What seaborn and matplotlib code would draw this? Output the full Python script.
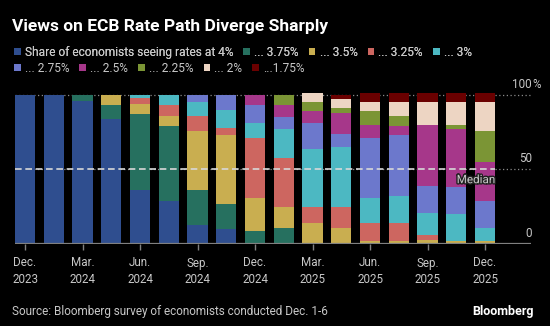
import matplotlib
matplotlib.use("Agg")
import matplotlib.pyplot as plt
import matplotlib.patheffects as pe
from matplotlib.patches import Patch
from matplotlib.transforms import blended_transform_factory
import numpy as np
import pandas as pd
import seaborn as sns

# ECB policy meetings covered by the survey
meetings = ["Dec 2023", "Jan 2024", "Mar 2024", "Apr 2024", "Jun 2024", "Jul 2024",
            "Sep 2024", "Oct 2024", "Dec 2024", "Jan 2025", "Mar 2025", "Apr 2025",
            "Jun 2025", "Jul 2025", "Sep 2025", "Oct 2025", "Dec 2025"]

rate_labels = ["Share of economists seeing rates at 4%", "... 3.75%", "... 3.5%",
               "... 3.25%", "... 3%", "... 2.75%", "... 2.5%", "... 2.25%",
               "... 2%", "...1.75%"]

# Share of economists (%) expecting each deposit rate after each meeting
share_4_00 = [100, 100, 96, 84, 36, 29, 13, 10, 0, 0, 0, 0, 0, 0, 0, 0, 0]
share_3_75 = [0, 0, 4, 9, 51, 50, 23, 17, 9, 11, 0, 0, 0, 0, 0, 0, 0]
share_3_50 = [0, 0, 0, 7, 7, 7, 40, 46, 22, 14, 14, 11, 2, 2, 3, 2, 2]
share_3_25 = [0, 0, 0, 0, 4, 7, 10, 5, 40, 33, 11, 14, 12, 12, 3, 0, 0]
share_3_00 = [0, 0, 0, 0, 2, 7, 9, 12, 10, 19, 39, 40, 17, 18, 15, 18, 9]
share_2_75 = [0, 0, 0, 0, 0, 0, 5, 10, 12, 8, 17, 9, 40, 41, 18, 18, 18]
share_2_50 = [0, 0, 0, 0, 0, 0, 0, 0, 7, 8, 8, 14, 9, 6, 41, 39, 26]
share_2_25 = [0, 0, 0, 0, 0, 0, 0, 0, 0, 7, 6, 3, 9, 7, 0, 3, 21]
share_2_00 = [0, 0, 0, 0, 0, 0, 0, 0, 0, 0, 6, 6, 6, 9, 15, 15, 19]
share_1_75 = [0, 0, 0, 0, 0, 0, 0, 0, 0, 0, 0, 3, 6, 6, 6, 6, 6]

tick_positions = [0, 2, 4, 6, 8, 10, 12, 14, 16]
tick_labels = ["Dec.\n2023", "Mar.\n2024", "Jun.\n2024", "Sep.\n2024", "Dec.\n2024",
               "Mar.\n2025", "Jun.\n2025", "Sep.\n2025", "Dec.\n2025"]

median_level = 50

colors = ["#2F4E8F", "#26705F", "#C9AE50", "#CD6660", "#4CB8C2",
          "#6C78CC", "#A6378A", "#7B9535", "#EDD5C3", "#6A0000"]

series = [share_4_00, share_3_75, share_3_50, share_3_25, share_3_00,
          share_2_75, share_2_50, share_2_25, share_2_00, share_1_75]

# cumulative totals, bottom (4%) to top (1.75%)
df = pd.DataFrame({"meeting": meetings})
cum = np.zeros(len(meetings))
for i, s in enumerate(series):
    cum = cum + np.array(s)
    df[f"cum{i}"] = cum

sns.set_theme(style="dark")
plt.rcParams["font.family"] = ["Roboto", "DejaVu Sans"]

BG = "#000000"
TXT = "#c8c8c8"
fig = plt.figure(figsize=(5.5, 3.26), dpi=100, facecolor=BG)
ax = fig.add_axes([15 / 550, 82 / 326, 516 / 550, 155 / 326])
ax.set_facecolor(BG)

# stack by layering cumulative bars, tallest first
for i in range(len(series) - 1, -1, -1):
    sns.barplot(data=df, x="meeting", y=f"cum{i}", order=meetings, color=colors[i],
                saturation=1, width=0.7, errorbar=None, linewidth=0, ax=ax, zorder=2)

ax.set_xlim(-0.35, 17.6)
ax.set_ylim(0, 104)
ax.set_xlabel("")
ax.set_ylabel("")
for sp in ax.spines.values():
    sp.set_visible(False)
ax.grid(False)

# gridlines
ax.axhline(100, color="#8a8a8a", lw=0.9, ls=(0, (1, 2)), zorder=1)
ax.axhline(median_level, color="#8a8a8a", lw=0.9, ls=(0, (1, 2)), zorder=1)
ax.axhline(0, color="#808080", lw=1.6, zorder=3)

# median marker over the bars
last_edge = len(meetings) - 1 + 0.35
ax.plot([-0.35, last_edge], [median_level, median_level], color="#d8d8d8",
        lw=1.2, ls=(0, (4, 2.2)), zorder=4)
ax.text(last_edge, median_level - 2.5, "Median", ha="right", va="top", fontsize=8.4,
        color=TXT, zorder=5,
        path_effects=[pe.withStroke(linewidth=2, foreground="#202020")])

# right-hand value labels
trans = blended_transform_factory(ax.transAxes, ax.transData)
xr = (532 - 15) / 516
for v in [0, 50, 100]:
    ax.annotate(str(v), xy=(xr, v), xycoords=trans, xytext=(0, 3), textcoords="offset points",
                ha="right", va="bottom", fontsize=8.4, color=TXT, annotation_clip=False)
ax.annotate("%", xy=(xr, 100), xycoords=trans, xytext=(0, 3), textcoords="offset points",
            ha="left", va="bottom", fontsize=8.4, color=TXT, annotation_clip=False)
ax.set_yticks([])

ax.set_xticks(tick_positions)
ax.set_xticklabels(tick_labels, fontsize=8.4, color=TXT, linespacing=1.35)
ax.tick_params(axis="x", colors="#808080", length=4, width=1, pad=5, labelcolor=TXT,
               bottom=True)

# title and legend rows
fig.text(12 / 550, 1 - 26 / 326, "Views on ECB Rate Path Diverge Sharply", color="white",
         fontsize=12.5, fontweight="bold", ha="left", va="center")

handles = [Patch(facecolor=c, edgecolor="none") for c in colors]
legend_kw = dict(frameon=False, fontsize=8.6, labelcolor=TXT, handlelength=0.55,
                 handleheight=0.55, handletextpad=0.35, columnspacing=0.85,
                 borderpad=0, borderaxespad=0, loc="center left")
leg1 = fig.legend(handles[:5], rate_labels[:5], ncol=5,
                  bbox_to_anchor=(14 / 550, 1 - 52.5 / 326), **legend_kw)
fig.add_artist(leg1)
leg2 = fig.legend(handles[5:], rate_labels[5:], ncol=5,
                  bbox_to_anchor=(14 / 550, 1 - 68 / 326), **legend_kw)

fig.text(12 / 550, 1 - 312 / 326, "Source: Bloomberg survey of economists conducted Dec. 1-6",
         color=TXT, fontsize=8.5, ha="left", va="center")
fig.text(534 / 550, 1 - 311 / 326, "Bloomberg", color="white", fontsize=9,
         fontweight="bold", ha="right", va="center")

fig.savefig("out.png", dpi=100, facecolor=BG)
